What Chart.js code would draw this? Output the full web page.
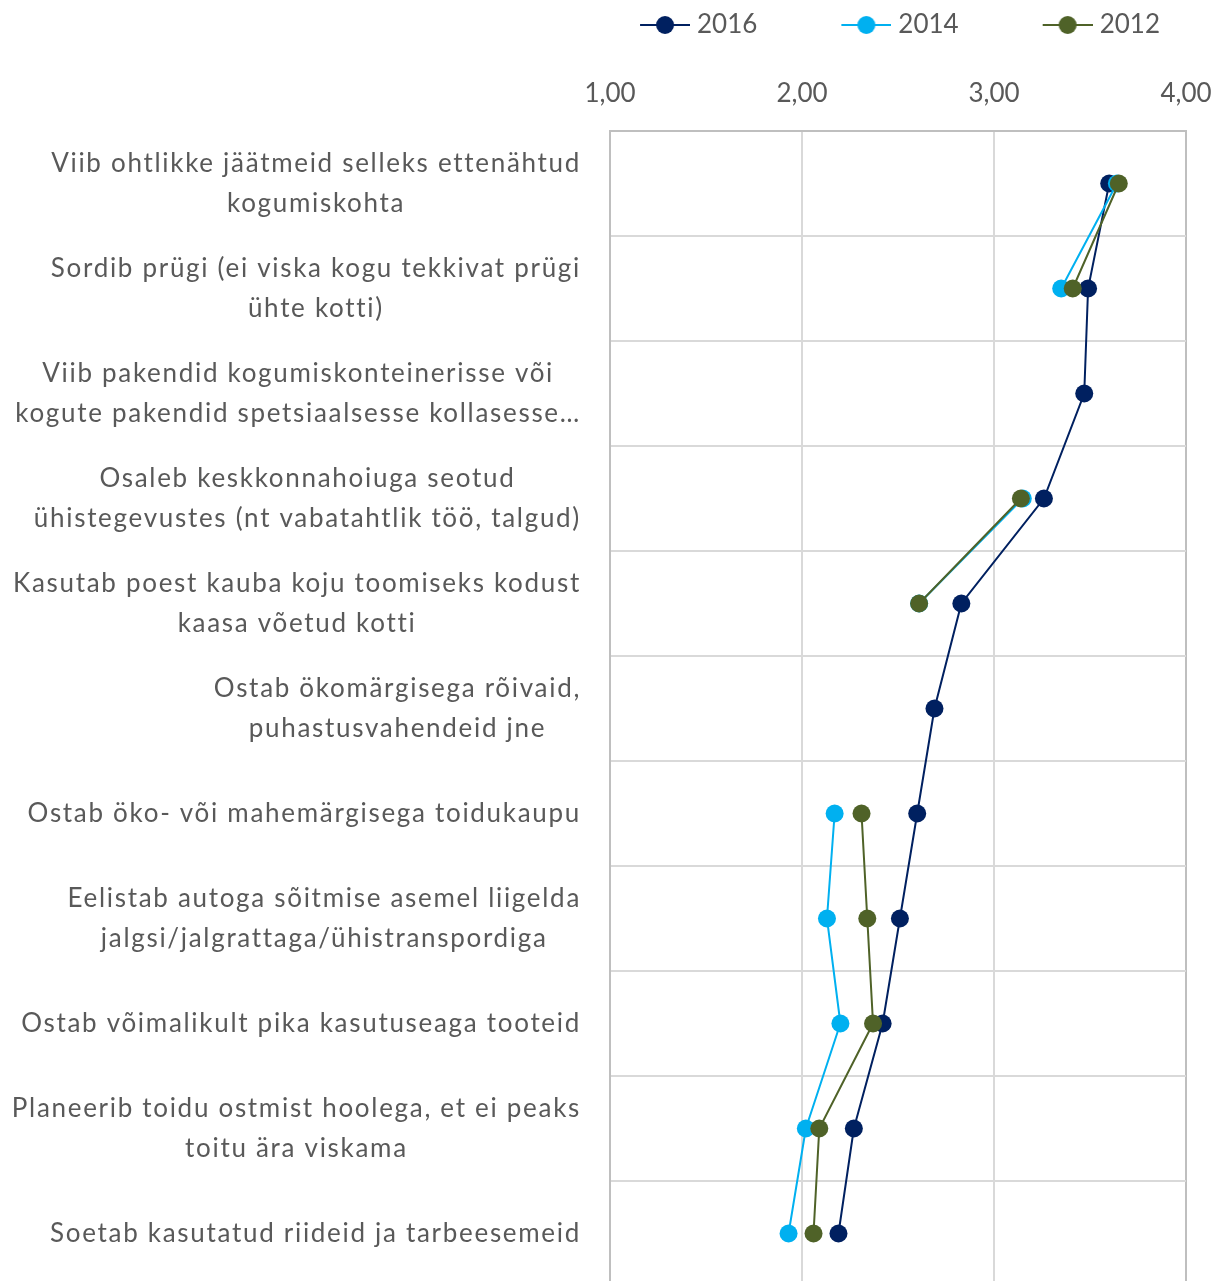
<!DOCTYPE html>
<html>
<head>
<meta charset="utf-8">
<script src="https://cdn.jsdelivr.net/npm/chart.js@4/dist/chart.umd.min.js"></script>
<style>
  html, body { margin: 0; padding: 0; background: #fff; overflow: hidden; }
  #wrap { width: 1225px; height: 1281px; overflow: hidden; }
</style>
</head>
<body>
<div id="wrap"><canvas id="chart" width="1225" height="1286"></canvas></div>
<script>
// category labels, one array per label (line breaks as in the original)
const categories = [
  ['Viib ohtlikke jäätmeid selleks ettenähtud', 'kogumiskohta'],
  ['Sordib prügi (ei viska kogu tekkivat prügi', 'ühte kotti)'],
  ['Viib pakendid kogumiskonteinerisse või', 'kogute pakendid spetsiaalsesse kollasesse…'],
  ['Osaleb keskkonnahoiuga seotud', 'ühistegevustes (nt vabatahtlik töö, talgud)'],
  ['Kasutab poest kauba koju toomiseks kodust', 'kaasa võetud kotti'],
  ['Ostab ökomärgisega rõivaid,', 'puhastusvahendeid jne'],
  ['Ostab öko- või mahemärgisega toidukaupu'],
  ['Eelistab autoga sõitmise asemel liigelda', 'jalgsi/jalgrattaga/ühistranspordiga'],
  ['Ostab võimalikult pika kasutuseaga tooteid'],
  ['Planeerib toidu ostmist hoolega, et ei peaks', 'toitu ära viskama'],
  ['Soetab kasutatud riideid ja tarbeesemeid']
];

const years = ['2016', '2014', '2012'];
const values2016 = [3.60, 3.49, 3.47, 3.26, 2.83, 2.69, 2.60, 2.51, 2.42, 2.27, 2.19];
const values2014 = [3.64, 3.35, null, 3.15, 2.61, null, 2.17, 2.13, 2.20, 2.02, 1.93];
const values2012 = [3.65, 3.41, null, 3.14, 2.61, null, 2.31, 2.34, 2.37, 2.09, 2.06];
const xTicks = [1, 2, 3, 4];

const colors = ['#002060', '#00B0F0', '#4F6228'];
const textColor = '#595959';
const fontFamily = 'Lato, "Open Sans", sans-serif';
const fontSize = 26;

// little "line with a dot" marker for the legend, like Excel draws it
function legendMarker(color) {
  const c = document.createElement('canvas');
  c.width = 130;
  c.height = 20;
  const g = c.getContext('2d');
  g.strokeStyle = color;
  g.lineWidth = 2;
  g.beginPath();
  g.moveTo(80, 10);
  g.lineTo(130, 10);
  g.stroke();
  g.fillStyle = color;
  g.beginPath();
  g.arc(105, 10, 9, 0, Math.PI * 2);
  g.fill();
  return c;
}

// y labels: each block right aligned at the axis, lines centred inside the block
const yLabels = {
  id: 'yLabels',
  afterDraw(chart) {
    const y = chart.scales.y;
    const g = chart.ctx;
    g.save();
    g.font = fontSize + 'px ' + fontFamily;
    g.letterSpacing = '1.7px';
    g.fillStyle = textColor;
    g.textAlign = 'center';
    g.textBaseline = 'middle';
    categories.forEach((lines, i) => {
      const mid = y.getPixelForTick(i);
      const w = Math.max(...lines.map(t => g.measureText(t).width));
      const cx = 581 - w / 2;
      lines.forEach((t, j) => {
        g.fillText(t, cx, mid + (j - (lines.length - 1) / 2) * 40);
      });
    });
    g.restore();
  }
};

// legend sits a bit left of the plot's right edge in the original
const legendShift = {
  id: 'legendShift',
  afterLayout(chart) {
    chart.legend.left -= 16;
    chart.legend.right -= 16;
  }
};

const series = [values2016, values2014, values2012];

new Chart(document.getElementById('chart'), {
  type: 'line',
  data: {
    labels: categories.map(c => c.join(' ')),
    datasets: years.map((year, i) => ({
      label: year,
      data: series[i],
      borderColor: colors[i],
      backgroundColor: colors[i],
      borderWidth: 2,
      pointRadius: 9,
      pointHoverRadius: 9,
      pointBorderWidth: 0,
      spanGaps: false,
      order: 3 - i
    }))
  },
  options: {
    indexAxis: 'y',
    responsive: false,
    animation: false,
    layout: { autoPadding: false, padding: { left: 0, right: 39, top: 2, bottom: 0 } },
    plugins: {
      tooltip: { enabled: false },
      legend: {
        position: 'top',
        align: 'end',
        labels: {
          usePointStyle: true,
          pointStyleWidth: 118,
          padding: 10,
          color: textColor,
          font: { family: fontFamily, size: fontSize },
          generateLabels: chart => chart.data.datasets.map((ds, i) => ({
            text: ds.label,
            fillStyle: ds.borderColor,
            strokeStyle: ds.borderColor,
            fontColor: textColor,
            lineWidth: 0,
            hidden: false,
            datasetIndex: i,
            pointStyle: legendMarker(ds.borderColor)
          }))
        }
      }
    },
    scales: {
      x: {
        type: 'linear',
        position: 'top',
        min: 1,
        max: 4,
        afterBuildTicks: s => { s.ticks = xTicks.map(v => ({ value: v })); },
        afterFit: s => {
          s.height = 83;
          s.paddingLeft = 0;
          s.paddingRight = 0;
        },
        ticks: {
          padding: 22,
          color: textColor,
          font: { family: fontFamily, size: fontSize },
          callback: v => v.toFixed(2).replace('.', ',')
        },
        grid: {
          color: ctx => (ctx.tick && ctx.tick.value === 4) ? '#BFBFBF' : '#D9D9D9',
          lineWidth: 2,
          drawTicks: false
        },
        border: { color: '#BFBFBF', width: 2 }
      },
      y: {
        type: 'category',
        offset: true,
        afterFit: s => { s.width = 610; },
        ticks: { display: false },
        grid: { offset: true, color: '#D9D9D9', lineWidth: 2, drawTicks: false },
        border: { color: '#BFBFBF', width: 2 }
      }
    }
  },
  plugins: [yLabels, legendShift]
});
</script>
</body>
</html>
